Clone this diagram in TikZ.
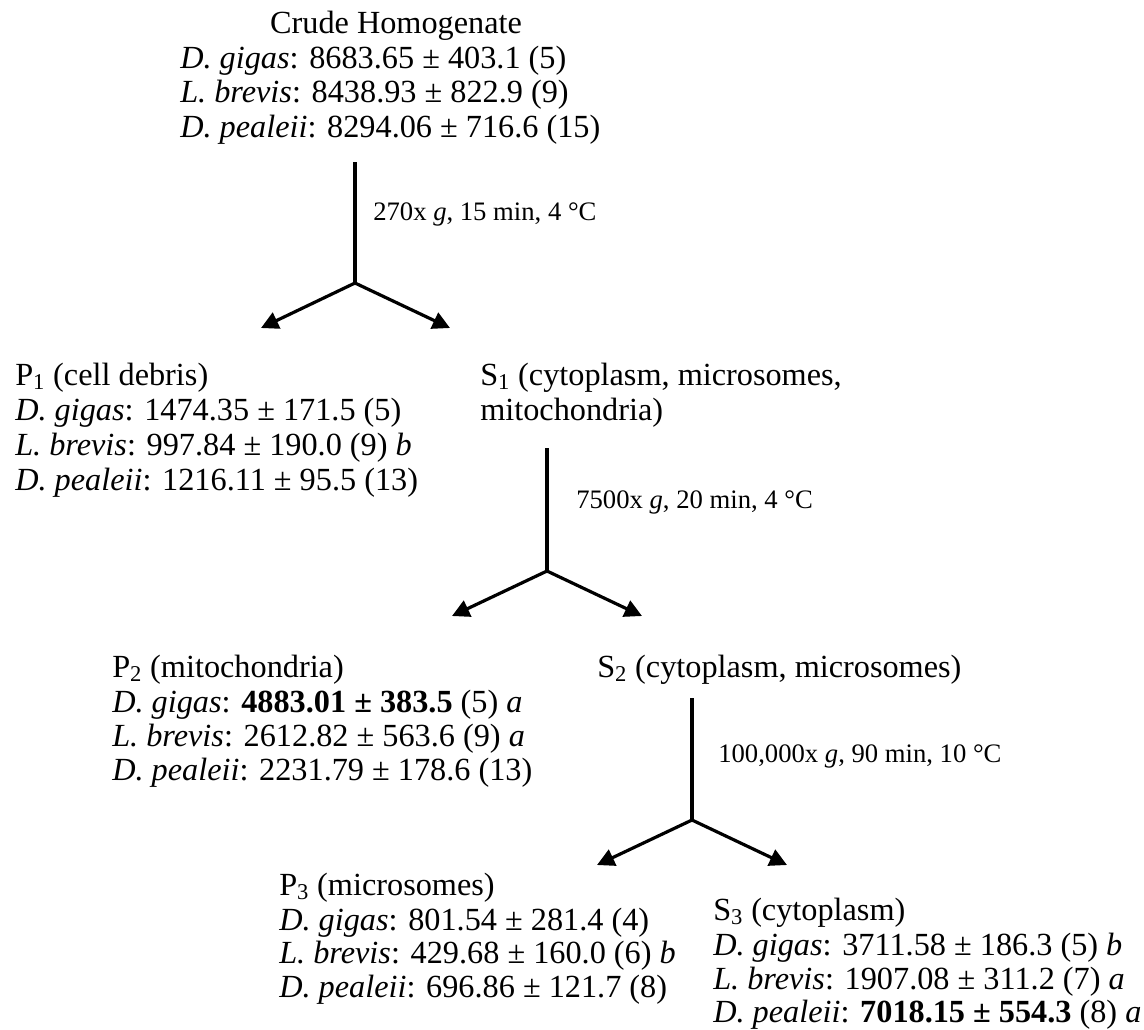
\documentclass[tikz,border=0pt]{standalone}
\usepackage{fontspec}
\setmainfont{Liberation Serif}
\usetikzlibrary{arrows.meta}
\begin{document}
\begin{tikzpicture}[x=0.75pt,y=-0.75pt,
  txt/.style={anchor=base west,inner sep=0pt,font=\fontsize{24.2}{26}\selectfont},
  ctr/.style={anchor=base,inner sep=0pt,font=\fontsize{24.2}{26}\selectfont},
  lbl/.style={anchor=base west,inner sep=0pt,font=\fontsize{20}{22}\selectfont},
  conn/.style={line width=2.4pt},
  arr/.style={conn,-{Triangle[length=13pt,width=13pt]}}]
\useasboundingbox (0,0) rectangle (1144,1029);

% Crude homogenate
\node[ctr] (c0) at (396,33) {Crude Homogenate};
\node[txt] (c1) at (180,68) {\textit{D. gigas}: 8683.65 ± 403.1 (5)};
\node[txt] (c2) at (180,102) {\textit{L. brevis}: 8438.93 ± 822.9 (9)};
\node[txt] (c3) at (180,137) {\textit{D. pealeii}: 8294.06 ± 716.6 (15)};

% P1
\node[txt] (p10) at (15,385) {P\textsubscript{1} (cell debris)};
\node[txt] (p11) at (15,420) {\textit{D. gigas}: 1474.35 ± 171.5 (5)};
\node[txt] (p12) at (15,455) {\textit{L. brevis}: 997.84 ± 190.0 (9) \textit{b}};
\node[txt] (p13) at (15,490) {\textit{D. pealeii}: 1216.11 ± 95.5 (13)};

% S1
\node[txt] (s10) at (480,385) {S\textsubscript{1} (cytoplasm, microsomes,};
\node[txt] (s11) at (480,420) {mitochondria)};

% P2
\node[txt] (p20) at (112,677) {P\textsubscript{2} (mitochondria)};
\node[txt] (p21) at (112,712) {\textit{D. gigas}: \textbf{4883.01 ± 383.5} (5) \textit{a}};
\node[txt] (p22) at (112,746) {\textit{L. brevis}: 2612.82 ± 563.6 (9) \textit{a}};
\node[txt] (p23) at (112,780) {\textit{D. pealeii}: 2231.79 ± 178.6 (13)};

% S2
\node[txt] (s20) at (597,677) {S\textsubscript{2} (cytoplasm, microsomes)};

% P3
\node[txt] (p30) at (279,895) {P\textsubscript{3} (microsomes)};
\node[txt] (p31) at (279,930) {\textit{D. gigas}: 801.54 ± 281.4 (4)};
\node[txt] (p32) at (279,963) {\textit{L. brevis}: 429.68 ± 160.0 (6) \textit{b}};
\node[txt] (p33) at (279,997) {\textit{D. pealeii}: 696.86 ± 121.7 (8)};

% S3
\node[txt] (s30) at (713,920) {S\textsubscript{3} (cytoplasm)};
\node[txt] (s31) at (713,955) {\textit{D. gigas}: 3711.58 ± 186.3 (5) \textit{b}};
\node[txt] (s32) at (713,989) {\textit{L. brevis}: 1907.08 ± 311.2 (7) \textit{a}};
\node[txt] (s33) at (713,1022) {\textit{D. pealeii}: \textbf{7018.15 ± 554.3} (8) \textit{a}};

% centrifugation labels
\node[lbl] (l1) at (373,220) {270x \textit{g}, 15 min, 4 °C};
\node[lbl] (l2) at (576,508) {7500x \textit{g}, 20 min, 4 °C};
\node[lbl] (l3) at (718,762) {100,000x \textit{g}, 90 min, 10 °C};

% split 1
\coordinate (a1) at (355,162);
\coordinate (j1) at (355,283);
\coordinate (t1l) at (261,328);
\coordinate (t1r) at (450,328);
\draw[conn] (a1) -- (j1);
\draw[arr] (j1) -- (t1l);
\draw[arr] (j1) -- (t1r);

% split 2
\coordinate (a2) at (547,448);
\coordinate (j2) at (547,571);
\coordinate (t2l) at (452,616);
\coordinate (t2r) at (642,616);
\draw[conn] (a2) -- (j2);
\draw[arr] (j2) -- (t2l);
\draw[arr] (j2) -- (t2r);

% split 3
\coordinate (a3) at (692,698);
\coordinate (j3) at (692,820);
\coordinate (t3l) at (597,865);
\coordinate (t3r) at (787,865);
\draw[conn] (a3) -- (j3);
\draw[arr] (j3) -- (t3l);
\draw[arr] (j3) -- (t3r);
\end{tikzpicture}
\end{document}
